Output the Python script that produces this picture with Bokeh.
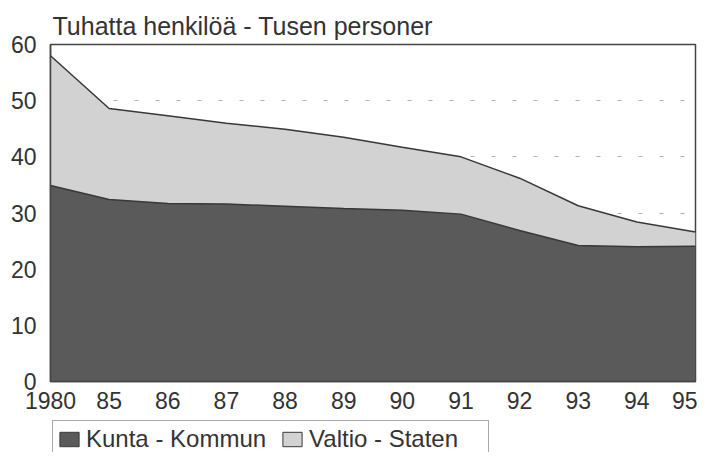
from bokeh.plotting import figure
from bokeh.layouts import column
from bokeh.models import ColumnDataSource, FixedTicker, Legend, LegendItem
from bokeh.embed import file_html
from bokeh.resources import INLINE

# ---- data ----
years = ["1980", "85", "86", "87", "88", "89", "90", "91", "92", "93", "94", "95"]
kunta = [34.9, 32.4, 31.7, 31.6, 31.2, 30.8, 30.5, 29.8, 26.9, 24.2, 24.0, 24.1]
valtio = [23.1, 16.2, 15.6, 14.4, 13.7, 12.7, 11.2, 10.2, 9.3, 7.1, 4.4, 2.5]
series_names = ["Kunta - Kommun", "Valtio - Staten"]
title_text = "Tuhatta henkilöä - Tusen personer"
y_ticks = [0, 10, 20, 30, 40, 50, 60]

FONT = "Liberation Sans"
TXT = "#333333"
DARK = "#5a5a5a"
LIGHT = "#d2d2d2"
EDGE = "#383838"

x = list(range(len(years)))
source = ColumnDataSource(dict(x=x, kunta=kunta, valtio=valtio))

p = figure(width=697, height=419, x_range=(0, len(years) - 1), y_range=(0, 60),
           output_backend="svg", toolbar_location=None,
           min_border_left=50, min_border_right=2, min_border_top=44, min_border_bottom=38)
p.background_fill_color = "white"
p.border_fill_color = "white"
p.outline_line_color = "#444444"
p.outline_line_width = 1.5

p.title.text = title_text
p.title.align = "left"
p.title.offset = 2
p.title.standoff = 9
p.title.text_font = FONT
p.title.text_font_size = "25px"
p.title.text_font_style = "normal"
p.title.text_color = TXT

p.varea_stack(["kunta", "valtio"], x="x", color=[DARK, LIGHT], source=source)
p.vline_stack(["kunta", "valtio"], x="x", color=EDGE, line_width=1.5, source=source)

# axes
p.xaxis.ticker = FixedTicker(ticks=x)
p.xaxis.major_label_overrides = {i: y for i, y in enumerate(years)}
p.yaxis.ticker = FixedTicker(ticks=y_ticks)
for ax in (p.xaxis[0], p.yaxis[0]):
    ax.axis_line_color = "#444444"
    ax.axis_line_width = 1.5
    ax.major_tick_line_color = None
    ax.minor_tick_line_color = None
    ax.major_tick_in = 0
    ax.major_tick_out = 0
    ax.minor_tick_in = 0
    ax.minor_tick_out = 0
    ax.major_label_text_font = FONT
    ax.major_label_text_color = TXT
    ax.major_label_text_font_size = "23px"
p.xaxis.major_label_standoff = 10
p.yaxis.major_label_standoff = 14

p.xgrid.grid_line_color = None
p.ygrid.grid_line_color = "#b0b0b0"
p.ygrid.grid_line_dash = "4 17"
p.ygrid.grid_line_width = 1

# ---- legend strip ----
lg = figure(width=697, height=33, x_range=(0, 1), y_range=(0, 1),
            output_backend="svg", toolbar_location=None,
            x_axis_location=None, y_axis_location=None,
            min_border_left=50, min_border_right=2, min_border_top=0, min_border_bottom=0)
lg.outline_line_color = None
lg.grid.visible = False
r1 = lg.quad(left=[5], right=[6], top=[5], bottom=[4], fill_color=DARK, line_color=EDGE)
r2 = lg.quad(left=[5], right=[6], top=[5], bottom=[4], fill_color=LIGHT, line_color=EDGE)
legend = Legend(items=[LegendItem(label=series_names[0], renderers=[r1]),
                       LegendItem(label=series_names[1], renderers=[r2])],
                orientation="horizontal", location=(2, -6), margin=0,
                padding=4, spacing=14, label_standoff=5, label_width=175,
                glyph_width=24, glyph_height=18,
                label_text_font=FONT, label_text_font_size="24px", label_text_color=TXT,
                border_line_color="#555555", border_line_width=1.5,
                background_fill_color="white", background_fill_alpha=1)
lg.add_layout(legend)

layout = column(p, lg, spacing=0)
open("out.html", "w").write(file_html(layout, INLINE))
